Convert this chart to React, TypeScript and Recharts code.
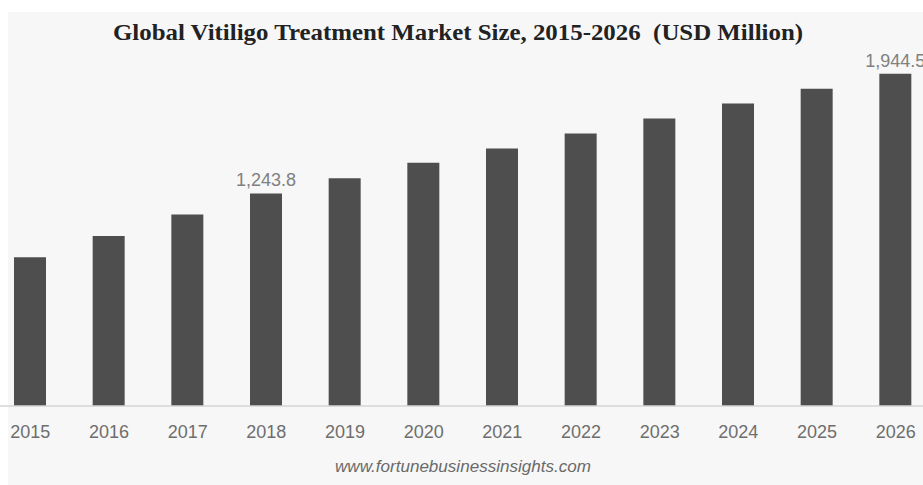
import React from "react";
import { BarChart, Bar, XAxis, YAxis, LabelList } from "recharts";

const years = ["2015", "2016", "2017", "2018", "2019", "2020", "2021", "2022", "2023", "2024", "2025", "2026"];
const marketSize = [871, 994, 1121, 1243.8, 1332, 1423, 1507, 1595, 1682, 1770, 1856, 1944.5];
const labeledYears = ["2018", "2026"];

const data = years.map((year, i) => ({ year, value: marketSize[i] }));

const fmt = (v: number) =>
  v.toLocaleString("en-US", { minimumFractionDigits: 1, maximumFractionDigits: 1 });

const ValueLabel = (props: any) => {
  const { x, y, width, value, index } = props;
  if (!labeledYears.includes(years[index])) return null;
  return (
    <text
      x={Number(x) + Number(width) / 2}
      y={Number(y) - 7}
      textAnchor="middle"
      fill="#808080"
      fontSize={18}
      fontFamily="'Liberation Sans', Arial, sans-serif"
    >
      {fmt(value)}
    </text>
  );
};

export default function App() {
  return (
    <div
      style={{
        position: "fixed",
        left: 0,
        top: 0,
        width: 923,
        height: 485,
        background: "#fff",
        overflow: "hidden",
      }}
    >
      <div
        style={{
          position: "absolute",
          left: 8,
          top: 12,
          right: 0,
          bottom: 0,
          background: "#f7f7f7",
        }}
      />
      <div style={{ position: "absolute", left: 0, top: 0 }}>
        <BarChart
          width={923}
          height={485}
          data={data}
          margin={{ top: 30, right: -12, bottom: 49, left: -9 }}
        >
          <XAxis
            dataKey="year"
            height={30}
            tickLine={false}
            tickSize={0}
            tickMargin={19}
            axisLine={{ stroke: "#d4d4d4", strokeWidth: 1.5 }}
            tick={{ fill: "#6e6e6e", fontSize: 18, fontFamily: "'Liberation Sans', Arial, sans-serif" }}
            interval={0}
          />
          <YAxis hide domain={[0, 2200]} />
          <Bar dataKey="value" fill="#4e4e4e" barSize={32} isAnimationActive={false}>
            <LabelList dataKey="value" content={ValueLabel} />
          </Bar>
        </BarChart>
      </div>
      <svg
        width={923}
        height={485}
        style={{ position: "absolute", left: 0, top: 0, pointerEvents: "none" }}
      >
        <text
          x={458}
          y={40}
          textAnchor="middle"
          fontSize={23}
          fontWeight="bold"
          fontFamily="'Liberation Serif', 'Times New Roman', serif"
          fill="#222"
          textLength={690}
          lengthAdjust="spacingAndGlyphs"
          style={{ whiteSpace: "pre" }}
        >
          {"Global Vitiligo Treatment Market Size, 2015-2026  (USD Million)"}
        </text>
        <text
          x={463}
          y={472}
          textAnchor="middle"
          fontSize={16}
          fontStyle="italic"
          fontFamily="'Liberation Sans', Arial, sans-serif"
          fill="#6a6a6a"
          textLength={256}
          lengthAdjust="spacingAndGlyphs"
        >
          www.fortunebusinessinsights.com
        </text>
      </svg>
    </div>
  );
}
